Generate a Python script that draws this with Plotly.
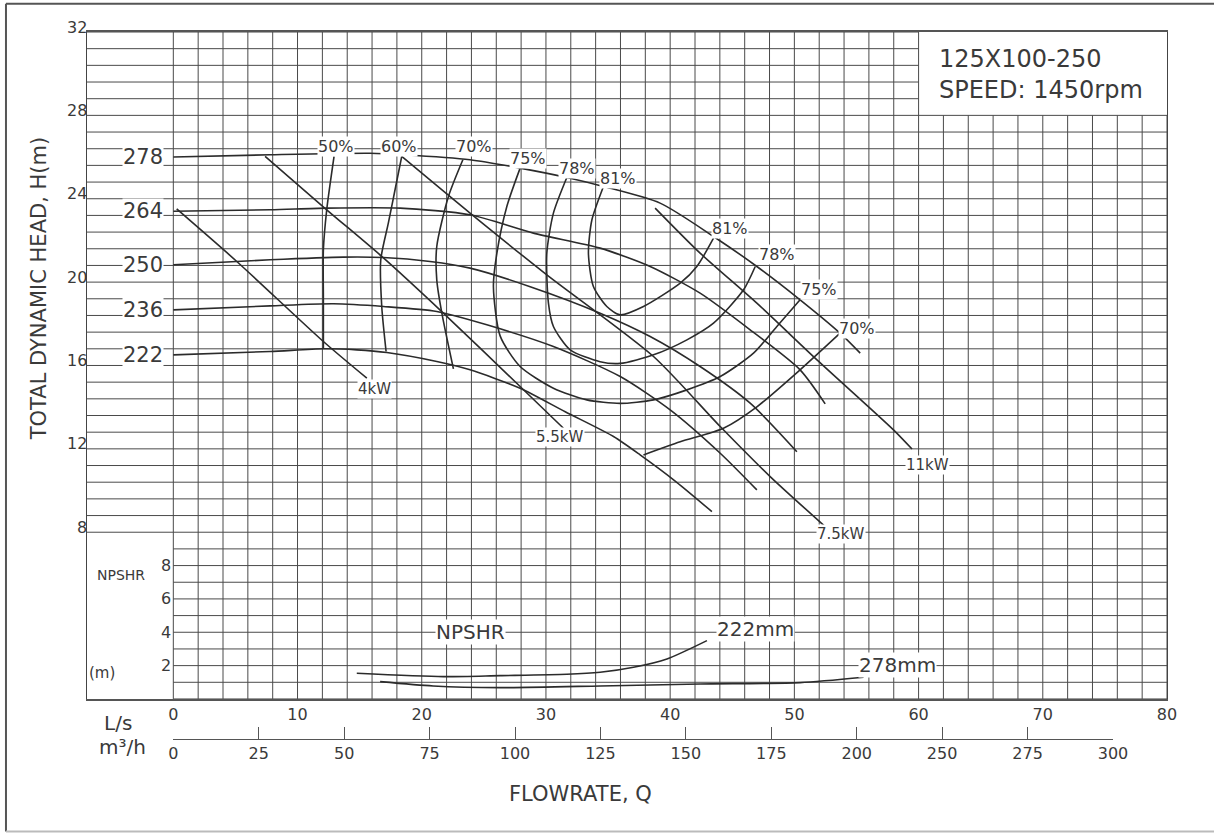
import plotly.graph_objects as go

# ---------------- data ----------------
# head curves per impeller diameter: flow Q (L/s), head H (m)
DIAMETERS = ["278", "264", "250", "236", "222"]
Q_278 = [0, 7.79, 15.84, 18.52, 23.88, 27.91, 31.68, 34.63, 39.19, 43.49, 46.98, 50.46, 53.68, 55.30]
H_278 = [26.00, 26.11, 26.18, 26.11, 25.87, 25.47, 25.02, 24.59, 23.79, 22.19, 20.75, 19.15, 17.55, 16.59]
Q_264 = [0, 7.79, 12.35, 18.26, 23.88, 28.99, 34.36, 38.39, 42.41, 46.44, 50.46, 52.48]
H_264 = [23.40, 23.47, 23.55, 23.55, 23.23, 22.35, 21.63, 20.75, 19.47, 17.71, 15.79, 14.16]
Q_250 = [0, 7.79, 13.69, 16.91, 20.67, 23.89, 28.73, 34.36, 38.39, 42.41, 46.44, 50.20]
H_250 = [20.83, 21.07, 21.20, 21.18, 20.99, 20.67, 19.78, 18.51, 17.39, 15.95, 14.19, 11.86]
Q_236 = [0, 7.79, 12.89, 16.91, 21.21, 25.24, 30.60, 35.98, 40.00, 44.03, 46.98]
H_236 = [18.67, 18.86, 18.96, 18.83, 18.59, 17.95, 16.91, 15.47, 13.87, 11.79, 10.03]
Q_222 = [0, 7.79, 12.08, 14.77, 17.19, 21.21, 23.89, 27.92, 31.55, 35.44, 37.58, 40.48, 43.36]
H_222 = [16.51, 16.67, 16.80, 16.75, 16.62, 16.19, 15.79, 14.91, 13.78, 12.59, 11.71, 10.42, 8.99]

# efficiency iso-lines
Q_EFF50 = [12.94, 12.35, 12.08, 12.08, 12.08]
H_EFF50 = [26.03, 23.47, 21.55, 19.15, 16.80]
Q_EFF60 = [18.39, 17.85, 17.31, 16.70, 16.78, 17.13]
H_EFF60 = [26.03, 24.43, 22.83, 21.07, 18.83, 16.67]
Q_EFF70_L = [23.31, 22.15, 21.21, 21.21, 21.62, 22.55]
H_EFF70_L = [25.87, 24.11, 21.71, 20.11, 18.51, 15.84]
Q_EFF70_R = [37.85, 40.81, 44.29, 47.01, 50.46, 53.68]
H_EFF70_R = [11.71, 12.34, 12.99, 14.03, 15.79, 17.55]
Q_EFF75 = [27.92, 26.85, 26.05, 25.77, 26.31, 27.92, 30.60, 33.29, 35.97, 38.66, 41.35, 44.03, 46.71, 48.59, 50.46]
H_EFF75 = [25.47, 23.63, 21.39, 19.79, 17.42, 15.95, 14.91, 14.35, 14.18, 14.35, 14.83, 15.47, 16.59, 17.87, 19.15]
Q_EFF78 = [31.68, 30.60, 30.07, 30.20, 30.60, 31.95, 34.36, 35.97, 38.66, 41.35, 43.49, 45.91, 46.85]
H_EFF78 = [25.02, 23.31, 21.39, 18.99, 17.87, 16.75, 16.18, 16.10, 16.51, 17.23, 18.03, 19.63, 20.75]
Q_EFF81 = [34.63, 33.70, 33.42, 33.82, 34.90, 35.97, 37.85, 40.81, 42.15, 43.49]
H_EFF81 = [24.59, 22.99, 21.39, 19.79, 18.83, 18.43, 18.83, 19.95, 20.75, 22.11]

# shaft power lines
Q_P4 = [0.27, 5.11, 12.08, 15.58]
H_P4 = [23.51, 20.99, 17.15, 15.39]
Q_P55 = [7.39, 12.35, 16.78, 21.74, 27.92, 31.41]
H_P55 = [26.03, 23.47, 21.23, 18.51, 14.99, 12.99]
Q_P75 = [18.39, 23.89, 30.07, 38.66, 44.03, 48.05, 52.48]
H_P75 = [26.03, 23.31, 20.35, 16.43, 13.07, 10.67, 8.27]
Q_P11 = [38.79, 42.41, 46.98, 51.82, 57.98, 59.47]
H_P11 = [23.55, 21.39, 18.99, 16.27, 12.91, 11.99]

# NPSHR curves (m)
Q_NPSH222 = [14.77, 21.74, 26.31, 31.68, 34.36, 37.05, 39.74, 42.96]
N_NPSH222 = [1.54, 1.34, 1.40, 1.48, 1.60, 1.90, 2.40, 3.50]
Q_NPSH278 = [16.65, 20.92, 26.31, 34.36, 42.41, 50.46, 55.57]
N_NPSH278 = [1.04, 0.78, 0.68, 0.78, 0.90, 0.98, 1.30]

# axis ticks / labels
Q_TICKS = [0, 10, 20, 30, 40, 50, 60, 70, 80]
H_TICKS = [32, 28, 24, 20, 16, 12, 8]
NPSH_TICKS = [8, 6, 4, 2]
M3H_LABELS = ["0", "25", "50", "75", "100", "125", "150", "175", "200", "250", "275", "300"]
M3H_STEP = 25

# labels: (text, Q, H)
EFF_LABELS = [("50%", 13.10, 26.50), ("60%", 18.18, 26.50), ("70%", 24.22, 26.50),
              ("75%", 28.53, 25.95), ("78%", 32.51, 25.47), ("81%", 35.81, 24.96),
              ("81%", 44.83, 22.59), ("78%", 48.59, 21.31), ("75%", 52.00, 19.63),
              ("70%", 55.04, 17.79)]
KW_LABELS = [("4kW", 16.16, 14.88), ("5.5kW", 31.14, 12.55), ("7.5kW", 53.77, 7.92),
             ("11kW", 60.74, 11.23)]
NPSH_LABELS = [("NPSHR", 23.90, 4.0), ("222mm", 46.85, 4.17), ("278mm", 58.32, 2.04)]
MODEL_TEXT = ["125X100-250", "SPEED: 1450rpm"]

# ---------------- layout geometry ----------------
W, H = 1214, 833
PX_FRAME_L = 87.0
PX_Q0 = 173.3
PX_Q80 = 1166.7
PX_TOP = 32.3
PX_H0 = 699.0
PX_M3H_END = 1112.7
PX_M3H_AXIS = 738.7
PX_PAPER_BOT = 800.0

Q_MAX = 80
H_MAX = 32
NPSH_MAX = 40  # NPSHR scale: 1 m NPSHR = 0.8 m of head grid
q_per_px = Q_MAX / (PX_Q80 - PX_Q0)
Q_MIN = -(PX_Q0 - PX_FRAME_L) * q_per_px

paper_h = PX_PAPER_BOT - PX_TOP
paper_w = PX_Q80 - PX_FRAME_L
y_dom0 = (PX_PAPER_BOT - PX_H0) / paper_h
y2_dom0 = (PX_PAPER_BOT - PX_M3H_AXIS) / paper_h
x2_dom = [(PX_Q0 - PX_FRAME_L) / paper_w, (PX_M3H_END - PX_FRAME_L) / paper_w]

def px_to_paper_x(px):
    return (px - PX_FRAME_L) / paper_w

def px_to_paper_y(py):
    return (PX_PAPER_BOT - py) / paper_h

FONT = "DejaVu Sans"
TXT = "#3a3a3a"
GRID = "#4a4a4a"
CURVE = "#2b2b2b"

fig = go.Figure()

def add_curve(q, h, yaxis="y"):
    fig.add_trace(go.Scatter(x=q, y=h, mode="lines", yaxis=yaxis, hoverinfo="skip",
                             showlegend=False,
                             line=dict(color=CURVE, width=1.6, shape="spline", smoothing=0.7)))

for q, h in [(Q_278, H_278), (Q_264, H_264), (Q_250, H_250), (Q_236, H_236), (Q_222, H_222),
             (Q_EFF50, H_EFF50), (Q_EFF60, H_EFF60), (Q_EFF70_L, H_EFF70_L), (Q_EFF70_R, H_EFF70_R),
             (Q_EFF75, H_EFF75), (Q_EFF78, H_EFF78), (Q_EFF81, H_EFF81),
             (Q_P4, H_P4), (Q_P55, H_P55), (Q_P75, H_P75), (Q_P11, H_P11)]:
    add_curve(q, h)
for q, n in [(Q_NPSH222, N_NPSH222), (Q_NPSH278, N_NPSH278)]:
    add_curve(q, n, yaxis="y3")

# empty trace so the m3/h axis subplot exists
fig.add_trace(go.Scatter(x=[None], y=[None], xaxis="x2", yaxis="y2", showlegend=False,
                         hoverinfo="skip"))

# ---------------- grid as shapes ----------------
shapes = []
BOX_Q, BOX_H = 60, 28
for i in range(0, Q_MAX + 1, 2):
    top = H_MAX if i <= BOX_Q else BOX_H
    shapes.append(dict(type="line", xref="x", yref="y", x0=i, x1=i, y0=0, y1=top,
                       line=dict(color=GRID, width=1), layer="below"))
for k in range(0, 41):
    hv = round(0.8 * k, 2)
    left = Q_MIN if hv >= 8 else 0
    right = Q_MAX if hv <= BOX_H else BOX_Q
    shapes.append(dict(type="line", xref="x", yref="y", x0=left, x1=right, y0=hv, y1=hv,
                       line=dict(color=GRID, width=1), layer="below"))
# outer page frame
fx0, fx1 = px_to_paper_x(6), px_to_paper_x(1218)
fy0, fy1 = px_to_paper_y(831.5), px_to_paper_y(4)
shapes.append(dict(type="line", xref="paper", yref="paper", x0=fx0, x1=fx1, y0=fy1, y1=fy1,
                   line=dict(color="#555555", width=2)))
shapes.append(dict(type="line", xref="paper", yref="paper", x0=fx0, x1=fx0, y0=fy0, y1=fy1,
                   line=dict(color="#555555", width=2)))
shapes.append(dict(type="line", xref="paper", yref="paper", x0=fx0, x1=fx1, y0=fy0, y1=fy0,
                   line=dict(color="#bbbbbb", width=2)))

# ---------------- annotations ----------------
ann = []
def label(text, x, y, size, yref="y", xanchor="center", bg="white", xshift=0, yshift=0, xref="x"):
    ann.append(dict(text=text, x=x, y=y, xref=xref, yref=yref, showarrow=False,
                    xanchor=xanchor, yanchor="middle", xshift=xshift, yshift=yshift,
                    bgcolor=bg, borderpad=0,
                    font=dict(family=FONT, size=size, color=TXT)))

for v in H_TICKS:
    label(str(v), Q_MIN, v, 16, xanchor="right", bg="rgba(0,0,0,0)", xshift=1, yshift=5)
for v in NPSH_TICKS:
    label(str(v), 0, v, 16, yref="y3", xanchor="right", bg="white", xshift=-1)
for name, hs in zip(DIAMETERS, [H_278, H_264, H_250, H_236, H_222]):
    label(name, Q_MIN + 0.65 * (0 - Q_MIN), hs[0], 21)
for t, q, h in EFF_LABELS:
    label(t, q, h, 16)
for t, q, h in KW_LABELS:
    label(t, q, h, 15)
for t, q, n in NPSH_LABELS:
    label(t, q, n, 20, yref="y3")
label("NPSHR", Q_MIN + 0.75, 7.46, 14, yref="y3", xanchor="left", bg="rgba(0,0,0,0)")
label("(m)", Q_MIN + 0.05, 1.54, 15, yref="y3", xanchor="left", bg="rgba(0,0,0,0)")
label(MODEL_TEXT[0], 61.6, 30.72, 24, xanchor="left", bg="rgba(0,0,0,0)")
label(MODEL_TEXT[1], 61.6, 29.21, 24, xanchor="left", bg="rgba(0,0,0,0)")
label("TOTAL DYNAMIC HEAD, H(m)", px_to_paper_x(38.5), px_to_paper_y(289), 21,
      xref="paper", yref="paper", bg="rgba(0,0,0,0)")
ann[-1]["textangle"] = -90
label("FLOWRATE, Q", px_to_paper_x(580), px_to_paper_y(794), 21, xref="paper", yref="paper",
      bg="rgba(0,0,0,0)")
label("L/s", px_to_paper_x(117.5), px_to_paper_y(723), 20, xref="paper", yref="paper",
      bg="rgba(0,0,0,0)")
label("m³/h", px_to_paper_x(122.5), px_to_paper_y(747), 20, xref="paper", yref="paper",
      bg="rgba(0,0,0,0)")

fig.update_layout(
    width=W, height=H,
    margin=dict(l=PX_FRAME_L, r=W - PX_Q80, t=PX_TOP, b=H - PX_PAPER_BOT, pad=0),
    paper_bgcolor="white", plot_bgcolor="white",
    showlegend=False,
    font=dict(family=FONT, color=TXT),
    xaxis=dict(range=[Q_MIN, Q_MAX], domain=[0, 1], anchor="y",
               tickvals=Q_TICKS, ticktext=[str(v) for v in Q_TICKS], ticks="",
               tickfont=dict(family=FONT, size=16, color=TXT),
               showgrid=False, zeroline=False, showline=True, mirror=True,
               linecolor="#555555", linewidth=1.5),
    yaxis=dict(range=[0, H_MAX], domain=[y_dom0, 1], anchor="x",
               showticklabels=False, ticks="", showgrid=False, zeroline=False,
               showline=True, mirror=True, linecolor="#444444", linewidth=1.2),
    yaxis3=dict(range=[0, NPSH_MAX], overlaying="y", anchor="x", visible=False),
    xaxis2=dict(range=[0, M3H_STEP * (len(M3H_LABELS) - 1)], domain=x2_dom, anchor="y2",
                tickvals=[M3H_STEP * i for i in range(len(M3H_LABELS))], ticktext=M3H_LABELS,
                ticks="inside", ticklen=12, tickcolor="#555555", tickwidth=1.2,
                tickfont=dict(family=FONT, size=16, color=TXT),
                showgrid=False, zeroline=False, showline=True, linecolor="#555555",
                linewidth=1.2),
    yaxis2=dict(domain=[y2_dom0, y2_dom0 + 0.01], anchor="x2", visible=False, range=[0, 1]),
    shapes=shapes,
    annotations=ann,
)

fig.write_html("out.html", config={"displayModeBar": False},
               post_script="document.body.style.margin='0';document.body.style.overflow='hidden';")
